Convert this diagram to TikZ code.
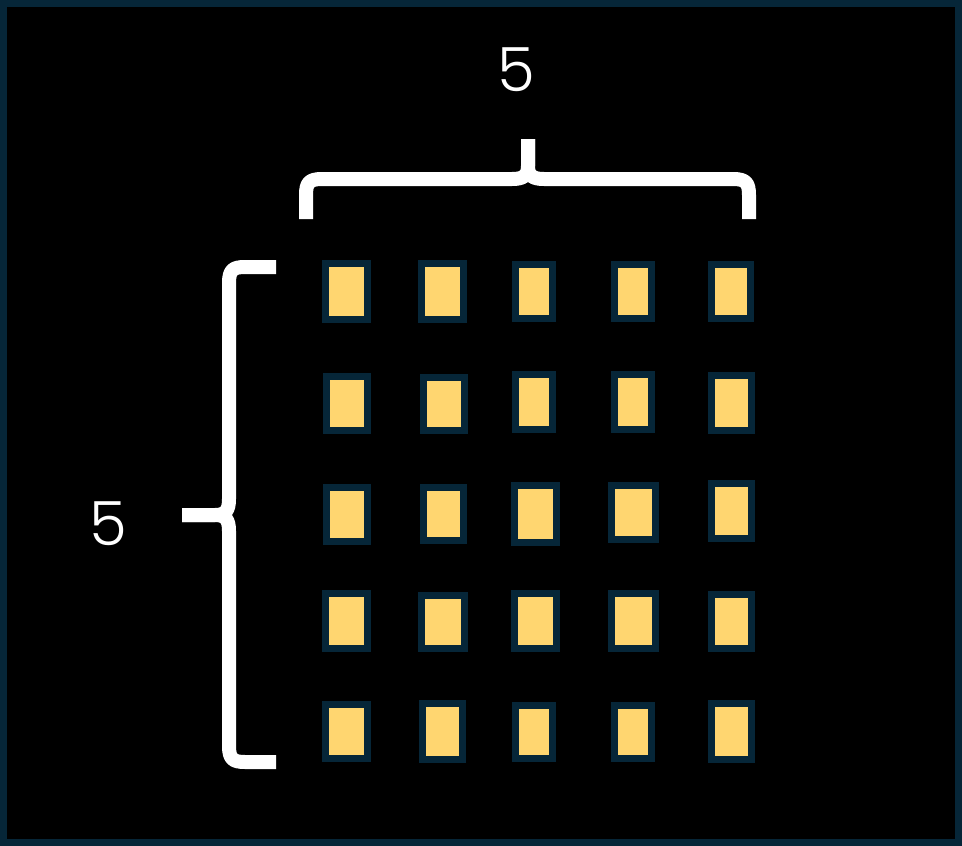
\documentclass[tikz,border=0pt]{standalone}
\usepackage{fontspec}
\setmainfont{Poppins}[UprightFont=* Light]
\definecolor{frameteal}{HTML}{062638}
\definecolor{cellfill}{HTML}{FFD670}
\tikzset{
  cellbox/.style={draw=frameteal, fill=cellfill, line width=7pt, inner sep=0pt, outer sep=0pt},
  bracestroke/.style={draw=white, line width=14pt, line cap=butt, line join=round},
  numlabel/.style={text=white, font=\fontsize{61}{61}\selectfont, inner sep=0pt}
}
\newcommand{\cellnode}[5]{\node[cellbox, minimum width=#4pt, minimum height=#5pt] (#1) at (#2,#3) {};}
\begin{document}
\begin{tikzpicture}[x=1pt,y=-1pt]
\fill[frameteal] (0,0) rectangle (962,846);
\fill[black] (7,7) rectangle (955,839);
\useasboundingbox (0,0) rectangle (962,846);
% row 1
\cellnode{c11}{346.5}{291.3}{42}{55.7}
\cellnode{c12}{442.5}{291.5}{42}{56}
\cellnode{c13}{534}{291.3}{37}{53.7}
\cellnode{c14}{633}{291.5}{37}{54}
\cellnode{c15}{731}{291.5}{39}{54}
% row 2
\cellnode{c21}{347}{403.3}{41}{53.7}
\cellnode{c22}{444}{403.8}{41}{52.7}
\cellnode{c23}{534}{401.8}{37}{54.7}
\cellnode{c24}{633}{402}{37}{55}
\cellnode{c25}{731.5}{402.8}{40}{54.7}
% row 3
\cellnode{c31}{347}{514.3}{41}{53.7}
\cellnode{c32}{443.5}{513.8}{40}{52.7}
\cellnode{c33}{535.5}{513.8}{42}{56.7}
\cellnode{c34}{633.5}{512.3}{44}{53.7}
\cellnode{c35}{731.5}{510.8}{40}{54.7}
% row 4
\cellnode{c41}{346.5}{620.8}{42}{54.7}
\cellnode{c42}{443}{621.8}{43}{52.7}
\cellnode{c43}{535.5}{620.8}{42}{54.7}
\cellnode{c44}{633.5}{620.8}{44}{54.7}
\cellnode{c45}{731.5}{621.3}{40}{53.7}
% row 5
\cellnode{c51}{346.5}{731.3}{42}{53.7}
\cellnode{c52}{442.5}{731.3}{40}{55.7}
\cellnode{c53}{534}{731.8}{37}{52.7}
\cellnode{c54}{633}{731.8}{37}{52.7}
\cellnode{c55}{731.5}{731.3}{40}{55.7}
% top brace
\draw[bracestroke] (306,219) -- (306,195) .. controls (306,183) and (309,179) .. (322,179)
  -- (512,179) .. controls (523,179) and (528,176) .. (528,166) -- (528,139);
\draw[bracestroke] (749,219) -- (749,195) .. controls (749,183) and (746,179) .. (733,179)
  -- (544,179) .. controls (533,179) and (528,176) .. (528,166) -- (528,139);
% left brace
\draw[bracestroke] (276,267) -- (245,267) .. controls (233,267) and (229,270) .. (229,283)
  -- (229,499) .. controls (229,510) and (226,515) .. (215,515) -- (182,515);
\draw[bracestroke] (276,762) -- (245,762) .. controls (233,762) and (229,759) .. (229,746)
  -- (229,531) .. controls (229,520) and (226,515) .. (215,515) -- (182,515);
% labels
\node[numlabel] (top5) at (516,70) {5};
\node[numlabel] (left5) at (108.5,524) {5};
\end{tikzpicture}
\end{document}
